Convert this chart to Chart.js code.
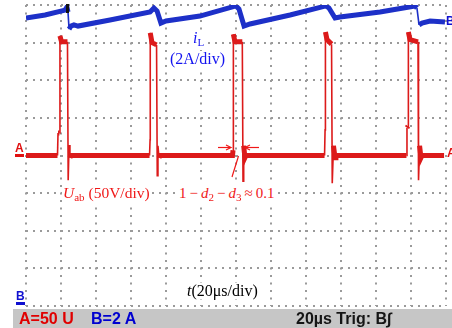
<!DOCTYPE html>
<html><head><meta charset="utf-8">
<script src="https://cdn.jsdelivr.net/npm/chart.js@4.4.0/dist/chart.umd.min.js"></script>
<style>
html,body{margin:0;padding:0;background:#fff;}
#wrap{position:relative;width:452px;height:328px;overflow:hidden;background:#fff;}
#c{position:absolute;left:0;top:0;}
.t{position:absolute;white-space:nowrap;font-family:"Liberation Serif","Times New Roman",serif;font-size:16px;line-height:16px;background:#fff;}
.red{color:#f01818;}
.blue{color:#1414f0;}
.blk{color:#000;}
.i{font-style:italic;}
.sub{font-size:11px;position:relative;top:3px;}
.bar{position:absolute;left:13px;top:309px;width:439px;height:19px;background:#c6c6c6;}
.st{position:absolute;top:309px;line-height:19px;font-family:"Liberation Sans",Arial,sans-serif;font-weight:bold;font-size:16px;white-space:nowrap;}
.mk{position:absolute;font-family:"Liberation Sans",Arial,sans-serif;font-weight:bold;font-size:12px;line-height:12px;}
</style></head><body>
<div id="wrap">
<canvas id="c" width="452" height="328"></canvas>
<div class="t blue" style="left:191px;top:30px;padding:0 2px;"><span class="i">i</span><span class="sub">L</span></div>
<div class="t blue" style="left:169px;top:51px;padding:0 1px;">(2A/div)</div>
<div class="t red" style="left:62px;top:185px;padding:0 1px;font-size:15.5px;"><span class="i">U</span><span class="sub">ab</span> (50V/div)</div>
<div class="t red" style="left:178px;top:185px;padding:0 1px;font-size:15px;">1&thinsp;−&thinsp;<span class="i">d</span><span class="sub">2</span>&thinsp;−&thinsp;<span class="i">d</span><span class="sub">3</span>&thinsp;≈&thinsp;0.1</div>
<div class="t blk" style="left:186px;top:283px;padding:0 1px;"><span class="i">t</span>(20μs/div)</div>
<svg style="position:absolute;left:0;top:0" width="452" height="328">
<g stroke="#f01818" stroke-width="1.2" fill="none">
<line x1="218" y1="147.5" x2="230" y2="147.5"/>
<polyline points="226,145 231,147.5 226,150"/>
<line x1="259" y1="147.5" x2="246" y2="147.5"/>
<polyline points="250,145 245,147.5 250,150"/>
<line x1="238.5" y1="156" x2="232" y2="177"/>
</g>
</svg>
<div style="position:absolute;left:66px;top:4px;width:3px;height:9px;background:#111;"></div>
<div class="mk" style="left:15px;top:142px;color:#e01010;border-bottom:3px solid #e01010;">A</div>
<div class="mk" style="left:16px;top:290px;color:#1010d0;border-bottom:3px solid #1010d0;">B</div>
<div class="mk" style="left:446px;top:15px;color:#1010d0;">B</div>
<div class="mk" style="left:447px;top:147px;color:#e01010;">A</div>
<div class="bar"></div>
<div class="st" style="left:19px;color:#e00000;">A=50 U</div>
<div class="st" style="left:91px;color:#0000d0;">B=2 A</div>
<div class="st" style="left:296px;color:#151515;">20µs Trig: B∫</div>
</div>
<script>
// time axis: 12 divisions x 20 us
const timeTicksUs = [0, 240, 20];
// channel A: U_ab (50 V/div), 8 divisions
const voltRangeV = [-200, 200, 50];
// channel B: i_L (2 A/div)
const currRangeA = [-0.3, 15.7];

const timeA_us = [0, 18.0, 18.3, 19.1, 19.4, 20.3, 23.7, 24.1, 24.6, 25.1, 25.7,
  70.6, 70.9, 71.0, 72.0, 74.6, 75.0, 75.4, 76.0, 76.6,
  118.0, 118.3, 118.5, 119.4, 123.6, 124.0, 124.4, 125.1, 125.7,
  170.6, 170.9, 171.1, 172.0, 174.6, 175.0, 175.7, 176.6, 177.1,
  217.4, 217.7, 218.3, 218.5, 219.4, 224.0, 224.3, 224.9, 225.7, 226.3, 238.9];
const uab_V = [0, 0, 30, 30, 159, 151, 151, -33, 14, -3, 0,
  0, 21, 163, 150, 147, -27, 13, -3, 0,
  0, 7, 161, 151, 151, -34, 13, -3, 0,
  0, 34, 164, 154, 148, -37, 13, -3, 0,
  0, 37, 39, 164, 154, 151, -33, 13, -3, 0, 0];

const timeB_us = [0, 10.9, 22.3, 23.4, 24.0, 24.6, 25.7, 27.4, 29.7, 48.0,
  70.9, 73.1, 74.9, 77.1, 80.0, 99.4, 120.0, 121.7, 124.6, 128.0,
  150.9, 171.4, 173.1, 176.6, 179.4, 202.3, 222.3, 223.4, 224.6, 226.3, 230.9, 239.4];
const iL_A = [15.01, 15.17, 15.43, 15.59, 15.33, 14.42, 14.58, 14.64, 14.58, 14.9,
  15.33, 15.54, 15.38, 14.74, 14.85, 15.11, 15.65, 15.49, 14.58, 14.69,
  15.17, 15.65, 15.54, 15.01, 15.06, 15.33, 15.65, 15.54, 14.64, 14.74, 14.85, 14.8];

const pts = (xs, ys) => xs.map((x, i) => ({x, y: ys[i]}));
const slopeWidth = (thr, thin, thick) => ctx => {
  const dx = ctx.p1.parsed.x - ctx.p0.parsed.x;
  const dy = ctx.p1.parsed.y - ctx.p0.parsed.y;
  return Math.abs(dy / (dx || 1e-6)) > thr ? thin : thick;
};

new Chart(document.getElementById('c'), {
  type: 'line',
  data: {
    datasets: [
      {label: 'Uab', data: pts(timeA_us, uab_V), yAxisID: 'yA',
       borderColor: '#dc1a1a', borderWidth: 5, pointRadius: 0, tension: 0,
       segment: {borderWidth: slopeWidth(25, 1.6, 5)}},
      {label: 'iL', data: pts(timeB_us, iL_A), yAxisID: 'yB',
       borderColor: '#1d30c8', borderWidth: 5, pointRadius: 0, tension: 0,
       segment: {borderWidth: slopeWidth(0.5, 1.6, 5)}}
    ]
  },
  options: {
    responsive: false, devicePixelRatio: 1, animation: false,
    layout: {padding: {left: 26, right: 6, top: 5, bottom: 22}},
    plugins: {legend: {display: false}, tooltip: {enabled: false}},
    scales: {
      x: {type: 'linear', min: timeTicksUs[0], max: timeTicksUs[1],
          ticks: {display: false, stepSize: timeTicksUs[2]},
          grid: {color: '#9a9a9a', lineWidth: 2, drawTicks: false},
          border: {display: false, dash: [2, 5.5]}},
      yA: {type: 'linear', position: 'left', min: voltRangeV[0], max: voltRangeV[1],
          ticks: {display: false, stepSize: voltRangeV[2]},
          grid: {color: '#9a9a9a', lineWidth: 2, drawTicks: false},
          border: {display: false, dash: [2, 5]}},
      yB: {type: 'linear', position: 'right', min: currRangeA[0], max: currRangeA[1], display: false}
    }
  }
});
</script>
</body></html>
